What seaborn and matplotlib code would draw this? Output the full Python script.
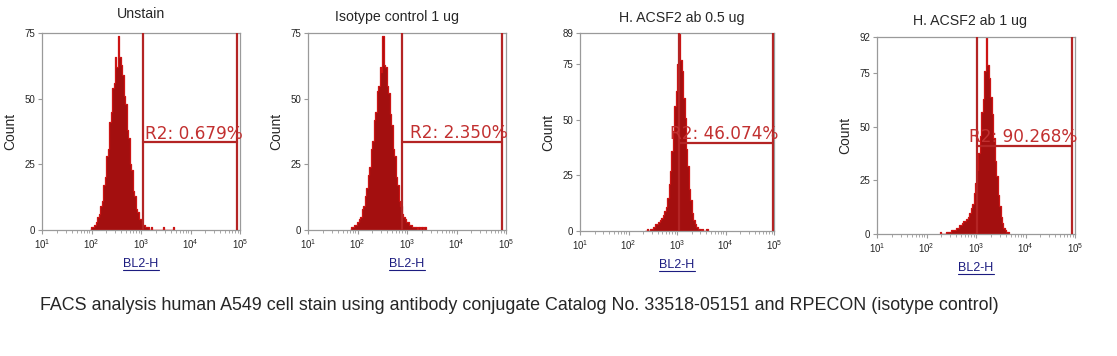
import numpy as np
import matplotlib
matplotlib.use("Agg")
import matplotlib.pyplot as plt
import matplotlib.ticker as mticker
from matplotlib.lines import Line2D
import seaborn as sns

sns.set_style("white")
plt.rcParams['font.family'] = ['Liberation Sans', 'DejaVu Sans']

# DATA
titles = ["Unstain", "Isotype control 1 ug", "H. ACSF2 ab 0.5 ug", "H. ACSF2 ab 1 ug"]
gate_text = ["R2: 0.679%", "R2: 2.350%", "R2: 46.074%", "R2: 90.268%"]
caption = ("FACS analysis human A549 cell stain using antibody conjugate "
           "Catalog No. 33518-05151 and RPECON (isotype control)")

y_max = [75, 75, 89, 92]
y_ticks = [[0, 25, 50, 75], [0, 25, 50, 75], [0, 25, 50, 75, 89], [0, 25, 50, 75, 92]]

# gate R2 (BL2-H limits and marker height in counts)
gate_lo = [1.1e3, 7.9e2, 1.1e3, 1.05e3]
gate_hi = [8.7e4, 8.3e4, 9.5e4, 8.7e4]
gate_y = [33.5, 33.6, 39.6, 41.2]

# histogram channels: first channel (log10 BL2-H) and channel width in decades
step = 0.03
first_ch = [1.98, 1.86, 2.36, 2.28]

unstain = [0, 1, 1, 2, 3, 5, 6, 9, 11, 17, 20, 28, 31, 41, 45, 54, 56, 66, 62, 74,
           66, 63, 59, 51, 48, 38, 35, 25, 23, 15, 13, 8, 7, 4, 4, 2, 2, 1, 1, 1,
           0, 1, 0, 0, 0, 0, 0, 0, 0, 1, 0, 0, 0, 0, 0, 0, 1]
isotype = [0, 1, 1, 2, 2, 3, 4, 5, 8, 9, 13, 16, 21, 24, 31, 34, 42, 45, 53, 55,
           62, 60, 74, 63, 62, 55, 52, 44, 40, 31, 28, 20, 17, 11, 9, 6, 5, 4, 3, 3,
           2, 2, 1, 1, 1, 0, 1, 0, 1, 0, 1]
acsf2_05 = [0, 1, 0, 1, 1, 2, 2, 3, 3, 4, 5, 6, 7, 9, 11, 15, 21, 27, 36, 45,
            56, 63, 75, 89, 77, 72, 60, 51, 37, 29, 19, 14, 8, 5, 3, 2, 1, 1, 0, 1,
            0, 0, 1]
acsf2_1 = [1, 0, 0, 0, 1, 1, 1, 1, 2, 2, 2, 3, 3, 4, 4, 5, 6, 6, 7, 8,
           10, 12, 14, 19, 24, 30, 38, 46, 57, 63, 76, 92, 79, 73, 64, 56, 45, 34, 27, 18,
           13, 8, 5, 3, 2, 1, 1]

series = [unstain, isotype, acsf2_05, acsf2_1]

# LAYOUT (pixels of the 1117x356 picture: left, right, top, bottom)
W, H = 1117, 356
boxes = [(42, 240, 33, 230), (308, 506, 33, 230), (580, 774, 33, 231), (877, 1075, 37, 234)]
title_x = [0.5, 0.45, 0.526, 0.47]
title_pad = [11.0, 9.0, 8.2, 9.0]

fill_col = "#a30f0f"
edge_col = "#cc1414"
gate_col = "#b42424"
text_col = "#c23030"
grey = "#9a9a9a"
navy = "#1c1c80"

fig = plt.figure(figsize=(W / 100, H / 100), dpi=100)
fig.patch.set_facecolor("white")

axes = []
for i in range(4):
    l, r, t, b = boxes[i]
    ax = fig.add_axes([l / W, 1 - b / H, (r - l) / W, (b - t) / H])
    axes.append(ax)

    counts = np.array(series[i], dtype=float)
    n = len(counts)
    centers = first_ch[i] + step * np.arange(n)
    lo = first_ch[i] - step / 2
    hi = lo + step * n

    sns.histplot(x=10 ** centers, weights=counts, bins=n, binrange=(lo, hi),
                 log_scale=True, element="step", fill=True,
                 color=fill_col, edgecolor=edge_col, linewidth=0.9, alpha=1.0, ax=ax)

    # gate R2
    ax.axvline(gate_lo[i], color=gate_col, lw=1.6, zorder=4)
    ax.axvline(gate_hi[i], color=gate_col, lw=1.6, zorder=4)
    ax.plot([gate_lo[i], gate_hi[i]], [gate_y[i], gate_y[i]], color=gate_col, lw=1.6, zorder=4)
    ax.annotate(gate_text[i], xy=(gate_hi[i], gate_y[i]), xytext=(4, 2.5),
                textcoords="offset points", ha="right", va="baseline",
                fontsize=12.2, color=text_col, family=["DejaVu Sans"], zorder=5,
                annotation_clip=False)

    ax.set_xlim(1e1, 1e5)
    ax.set_ylim(0, y_max[i])
    ax.set_yticks(y_ticks[i])
    ax.xaxis.set_major_locator(mticker.LogLocator(base=10, numticks=10))
    ax.xaxis.set_minor_locator(mticker.LogLocator(base=10, subs=np.arange(2, 10), numticks=20))
    ax.xaxis.set_minor_formatter(mticker.NullFormatter())
    ax.tick_params(axis="both", which="major", direction="out", length=3, width=0.8,
                   color=grey, labelsize=7, pad=2, bottom=True, left=True)
    ax.tick_params(axis="x", which="minor", direction="out", length=2, width=0.6,
                   color=grey, bottom=True)
    for s in ax.spines.values():
        s.set_color(grey)
        s.set_linewidth(0.9)

    ax.set_title(titles[i], fontsize=10.2, pad=title_pad[i], x=title_x[i])
    ax.set_ylabel("Count", fontsize=10, labelpad=5)
    ax.set_xlabel("BL2-H", fontsize=9, color=navy, labelpad=5)

fig.text(40 / W, 1 - 305 / H, caption, fontsize=12.9, ha="left", va="center")

# underline the BL2-H labels
fig.canvas.draw()
renderer = fig.canvas.get_renderer()
for ax in axes:
    bb = ax.xaxis.label.get_window_extent(renderer)
    fig.add_artist(Line2D([bb.x0 / W, bb.x1 / W], [(bb.y0 - 0.5) / H, (bb.y0 - 0.5) / H],
                          transform=fig.transFigure, color=navy, lw=0.8))

fig.savefig("out.png", dpi=100)
